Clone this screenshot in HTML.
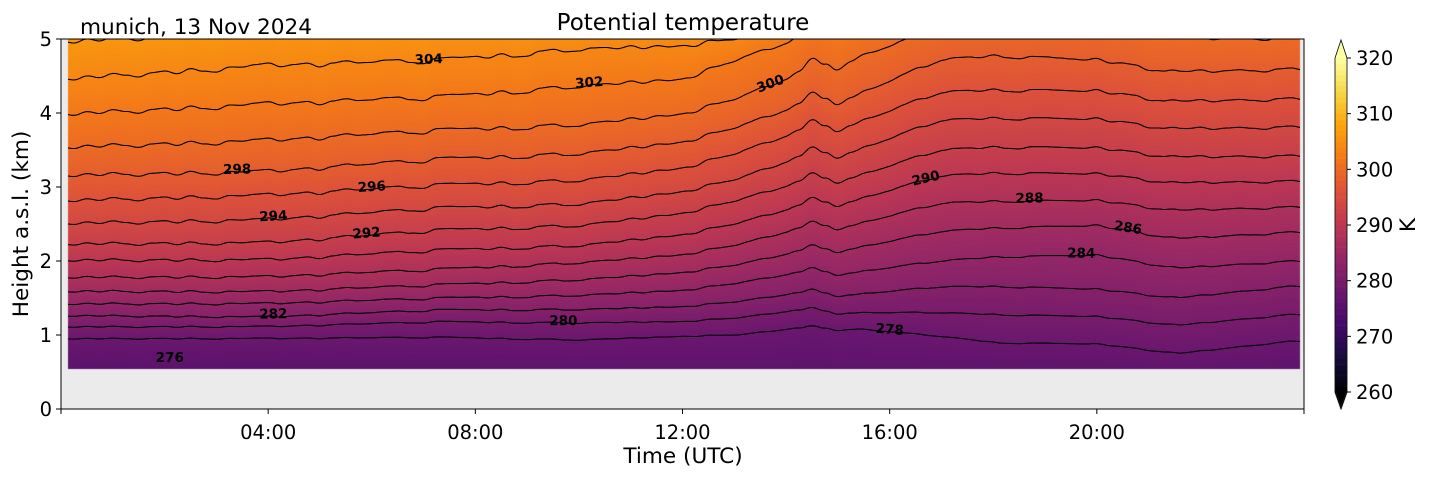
<!DOCTYPE html>
<html><head><meta charset="utf-8">
<style>
html,body{margin:0;padding:0;background:#fff;}
body{width:1429px;height:478px;position:relative;overflow:hidden;font-family:"DejaVu Sans","Liberation Sans",sans-serif;}
canvas{position:absolute;left:0;top:0;}
svg{position:absolute;left:0;top:0;font-family:"DejaVu Sans","Liberation Sans",sans-serif;}
</style></head>
<body>
<canvas id="fill" width="1429" height="478"></canvas>
<svg id="chart" width="1429" height="478"></svg>
<script>
// ---- data ----
const keyTimes = [0.3, 4, 7.3, 10, 12, 13.1, 14.1, 15.4, 17, 18.1, 20, 21.6, 23.7];
const levels = [276, 278, 280, 282, 284, 286, 288, 290, 292, 294, 296, 298, 300, 302, 304, 306, 308];
const h276 = [0.58,0.58,0.55,0.5,0.5,0.5,0.5,0.5,0.45,0.45,0.45,0.4,0.45];
const h278 = [0.95,0.95,0.97,0.93,0.98,1.0,1.08,1.08,0.98,0.89,0.88,0.75,0.91];
const h280 = [1.11,1.11,1.18,1.16,1.18,1.23,1.32,1.3,1.3,1.27,1.25,1.13,1.27];
const h282 = [1.26,1.24,1.34,1.34,1.38,1.45,1.55,1.55,1.65,1.65,1.62,1.5,1.65];
const h284 = [1.42,1.42,1.50,1.53,1.6,1.70,1.82,1.85,2.0,2.05,2.08,1.9,1.99];
const h286 = [1.59,1.58,1.68,1.74,1.84,1.95,2.1,2.18,2.4,2.44,2.48,2.3,2.38];
const h288 = [1.78,1.78,1.89,1.97,2.08,2.22,2.4,2.5,2.78,2.80,2.82,2.68,2.72];
const h290 = [2.01,2.01,2.15,2.2,2.35,2.51,2.7,2.83,3.15,3.18,3.18,3.05,3.07];
const h292 = [2.23,2.24,2.42,2.47,2.64,2.82,3.02,3.15,3.5,3.53,3.53,3.4,3.41];
const h294 = [2.51,2.55,2.72,2.76,2.93,3.11,3.35,3.5,3.9,3.92,3.92,3.78,3.80];
const h296 = [2.82,2.88,3.03,3.08,3.25,3.46,3.7,3.87,4.28,4.30,4.3,4.15,4.18];
const h298 = [3.16,3.2,3.38,3.44,3.6,3.81,4.05,4.25,4.72,4.76,4.72,4.55,4.58];
const h300 = [3.54,3.62,3.77,3.83,3.98,4.2,4.47,4.75,5.15,5.2,5.15,5.0,5.0];
const h302 = [3.99,4.11,4.22,4.35,4.45,4.72,4.95,5.2,5.6,5.6,5.6,5.45,5.45];
const h304 = [4.47,4.63,4.72,4.85,4.9,5.0,5.3,5.6,6.0,6.0,6.0,5.9,5.9];
const h306 = [4.97,5.1,5.15,5.2,5.3,5.4,5.7,6.0,6.4,6.4,6.4,6.3,6.3];
const h308 = [5.45,5.55,5.6,5.65,5.75,5.85,6.1,6.4,6.8,6.8,6.8,6.7,6.7];
// common small-scale perturbation (km), every 0.25 h from 0 h
const wiggle = [0,-0.02,0.02,-0.01,0.03,0.0,-0.03,0.01,0.02,-0.02,0.03,-0.01,-0.03,0.02,0.01,0.03,0.04,-0.01,0.01,0.02,-0.03,0.01,0.03,0.0,0.0,0.02,0.02,-0.02,-0.04,0.02,0.02,0.01,0.01,-0.02,0.02,-0.03,-0.03,0.02,0.03,-0.01,-0.01,0.02,0.02,0.0,0.03,-0.01,0.02,0.0,0.01,-0.02,0.03,0.01,0.0,0.02,0.03,0.0,0.01,0.06,0.18,0.05,-0.08,-0.02,0.02,0.0,0.0,0.02,0.03,-0.01,-0.01,0.02,0.02,0.0,0.03,-0.01,-0.02,0.02,0.02,0.01,0.0,-0.01,0.02,-0.02,0.01,0.01,-0.04,-0.02,0.02,0.01,0.03,-0.01,0.01,0.02,0.0,-0.02,0.02,0.03,0.0];
const yTicks = [0,1,2,3,4,5];
const xTicks = [4,8,12,16,20];
const xTickLabels = ["04:00","08:00","12:00","16:00","20:00"];
const cbTicks = [260,270,280,290,300,310,320];
const contourLabels = [[276,2.1],[278,16.0],[280,9.7],[282,4.1],[284,19.7],[286,20.6],[288,18.7],[290,16.7],[292,5.9],[294,4.1],[296,6.0],[298,3.4],[300,13.7],[302,10.2],[304,7.1]];
const H = {276:h276,278:h278,280:h280,282:h282,284:h284,286:h286,288:h288,290:h290,292:h292,294:h294,296:h296,298:h298,300:h300,302:h302,304:h304,306:h306,308:h308};

// ---- axes ----
const X0=61, X1=1304, Y0=409, Y1=39;
const xs = t => X0 + (X1-X0)*t/24;
const ys = z => Y0 - (Y0-Y1)*z/5;
const cbY = v => 392 - (v-260)*(392-58)/60;
const DX0=68, DX1=1300, DZ0=0.54;

function interp(arr,t){
  if(t<=keyTimes[0]) return arr[0];
  for(let i=1;i<keyTimes.length;i++){ if(t<=keyTimes[i]){const f=(t-keyTimes[i-1])/(keyTimes[i]-keyTimes[i-1]);return arr[i-1]*(1-f)+arr[i]*f;} }
  return arr[arr.length-1];
}
function wig(t){
  const p=t/0.25, i=Math.floor(p), f=p-i;
  const a=wiggle[Math.min(i,wiggle.length-1)], b=wiggle[Math.min(i+1,wiggle.length-1)];
  const s=(1-Math.cos(Math.PI*f))/2; return a*(1-s)+b*s;
}
function height(L,t){ const base=interp(H[L],t); const amp = L<=276?0.2:(0.25+0.9*(L-278)/26); return base + wig(t)*amp; }

// inferno
const infStops=[[0,[0,0,4]],[0.1,[22,11,57]],[0.2,[66,10,104]],[0.3,[106,23,110]],[0.4,[147,38,103]],[0.5,[188,55,84]],[0.6,[221,81,58]],[0.7,[243,120,25]],[0.8,[252,165,10]],[0.9,[246,215,70]],[1,[252,255,164]]];
function inferno(u){
  u=Math.max(0,Math.min(1,u));
  for(let i=1;i<infStops.length;i++){ if(u<=infStops[i][0]){const a=infStops[i-1],b=infStops[i];const f=(u-a[0])/(b[0]-a[0]);return a[1].map((c,k)=>Math.round(c+(b[1][k]-c)*f));}}
  return infStops[infStops.length-1][1];
}

// ---- fill ----
const cv=document.getElementById('fill'), ctx=cv.getContext('2d');
ctx.fillStyle='#ebebeb'; ctx.fillRect(X0,Y1,X1-X0,Y0-Y1);
const yTop=Y1, yBot=Math.round(ys(DZ0));
const img=ctx.createImageData(DX1-DX0, yBot-yTop);
for(let x=DX0;x<DX1;x++){
  const t=(x-X0)/(X1-X0)*24;
  const hs=levels.map(L=>height(L,t));
  for(let y=yTop;y<yBot;y++){
    const z=(Y0-y-0.5)/(Y0-Y1)*5;
    let th;
    if(z<=hs[0]) th=levels[0]-(hs[0]-z)*4;
    else if(z>=hs[hs.length-1]) th=levels[levels.length-1];
    else { for(let k=1;k<hs.length;k++){ if(z<=hs[k]){ th=levels[k-1]+2*(z-hs[k-1])/(hs[k]-hs[k-1]); break; } } }
    const c=inferno((th-260)/60);
    const o=((y-yTop)*(DX1-DX0)+(x-DX0))*4;
    img.data[o]=c[0];img.data[o+1]=c[1];img.data[o+2]=c[2];img.data[o+3]=255;
  }
}
ctx.putImageData(img,DX0,yTop);
// colorbar
for(let v=260;v<320;v+=1){
  const c=inferno((v+0.5-260)/60);
  ctx.fillStyle=`rgb(${c[0]},${c[1]},${c[2]})`;
  ctx.fillRect(1335,cbY(v+1),12,cbY(v)-cbY(v+1)+0.6);
}
let c1=inferno(1); ctx.fillStyle=`rgb(${c1})`;
ctx.beginPath();ctx.moveTo(1335,58);ctx.lineTo(1341,40);ctx.lineTo(1347,58);ctx.fill();
ctx.fillStyle='#000';ctx.beginPath();ctx.moveTo(1335,392);ctx.lineTo(1341,409);ctx.lineTo(1347,392);ctx.fill();

// ---- svg ----
const NS='http://www.w3.org/2000/svg', svg=document.getElementById('chart');
function el(tag,attrs,parent){const e=document.createElementNS(NS,tag);for(const k in attrs)e.setAttribute(k,attrs[k]);(parent||svg).appendChild(e);return e;}
const clip=el('clipPath',{id:'dclip'},el('defs',{}));
el('rect',{x:DX0,y:Y1,width:DX1-DX0,height:yBot-Y1},clip);
const cg=el('g',{'clip-path':'url(#dclip)'});


levels.forEach(L=>{
  if(L===276) return;
  let d='';
  for(let x=DX0;x<=DX1;x+=2){const t=(x-X0)/(X1-X0)*24;d+=(x===DX0?'M':'L')+x+','+ys(height(L,t)).toFixed(1);}
  const p=el('path',{d:d,fill:'none',stroke:'#000','stroke-width':1.1},cg);
  
  
});
contourLabels.forEach(([L,t])=>{
  const x=xs(t), y=L===276?358:ys(height(L,t))-2;
  const dy=L===276?0:(interp(H[L],t+0.5)-interp(H[L],t-0.5))*(-74)/(xs(t+0.5)-xs(t-0.5));
  const a=Math.atan(dy)*180/Math.PI;
  const tx=el('text',{x:x,y:y+4,'font-size':13.5,'font-weight':'bold','text-anchor':'middle',transform:`rotate(${a.toFixed(1)} ${x} ${y})`});
  tx.textContent=L;
  
  
});
// frame
const fr=el('rect',{x:X0,y:Y1,width:X1-X0,height:Y0-Y1,fill:'none',stroke:'#000','stroke-width':1});


yTicks.forEach(v=>{
  el('line',{x1:X0-5,x2:X0,y1:ys(v),y2:ys(v),stroke:'#000'});
  const t=el('text',{x:X0-9,y:ys(v)+7,'font-size':19.5,'text-anchor':'end'});t.textContent=v;
  
  
});
[0,24].forEach(v=>el('line',{x1:xs(v),x2:xs(v),y1:Y0,y2:Y0+5,stroke:'#000'}));
xTicks.forEach((v,i)=>{
  el('line',{x1:xs(v),x2:xs(v),y1:Y0,y2:Y0+5,stroke:'#000'});
  const t=el('text',{x:xs(v),y:Y0+30,'font-size':19.5,'text-anchor':'middle'});t.textContent=xTickLabels[i];
  
  
});
cbTicks.forEach(v=>{
  el('line',{x1:1347,x2:1351,y1:cbY(v),y2:cbY(v),stroke:'#000'});
  const t=el('text',{x:1356,y:cbY(v)+7,'font-size':19.5});t.textContent=v;
  
  
});
const cbo=el('path',{d:'M1335,58 L1341,40 L1347,58 L1347,392 L1341,409 L1335,392 Z',fill:'none',stroke:'#000','stroke-width':0.8});


</script>
<svg width="1429" height="478">
<text x="683" y="30" font-size="23" text-anchor="middle">Potential temperature</text>
<text x="80" y="34" font-size="21.6">munich, 13 Nov 2024</text>
<text x="683" y="463" font-size="21.6" text-anchor="middle">Time (UTC)</text>
<text transform="translate(28,224) rotate(-90)" font-size="21.6" text-anchor="middle">Height a.s.l. (km)</text>
<text transform="translate(1415,225) rotate(-90)" font-size="21.6" text-anchor="middle">K</text>
</svg>
</body></html>
